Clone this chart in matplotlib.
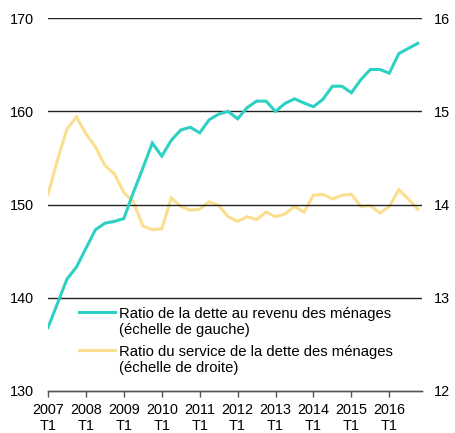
import matplotlib
matplotlib.use("Agg")
import matplotlib.pyplot as plt
import numpy as np

plt.rcParams['font.family'] = ['Liberation Sans', 'DejaVu Sans']

years = [2007, 2008, 2009, 2010, 2011, 2012, 2013, 2014, 2015, 2016]
tick_labels = [f"{y}\nT1" for y in years]

debt_income = [136.8, 139.4, 142.0, 143.3, 145.3, 147.3, 148.0, 148.2, 148.5, 151.3,
               153.9, 156.6, 155.2, 156.9, 158.0, 158.3, 157.7, 159.1, 159.7, 160.0,
               159.2, 160.4, 161.1, 161.1, 160.0, 160.85, 161.35, 160.9, 160.5, 161.3,
               162.7, 162.7, 162.0, 163.4, 164.5, 164.5, 164.1, 166.2, 166.75, 167.3]

debt_service = [14.11, 14.48, 14.81, 14.94, 14.76, 14.62, 14.42, 14.33, 14.13, 14.03,
                13.77, 13.73, 13.74, 14.07, 13.98, 13.94, 13.95, 14.03, 13.99, 13.87,
                13.82, 13.87, 13.84, 13.92, 13.87, 13.90, 13.98, 13.92, 14.10, 14.11,
                14.06, 14.10, 14.11, 13.98, 13.99, 13.91, 13.98, 14.16, 14.06, 13.95]

label_left = "Ratio de la dette au revenu des ménages\n(échelle de gauche)"
label_right = "Ratio du service de la dette des ménages\n(échelle de droite)"

teal = "#2FD0C4"
yellow = "#F9DF8E"

fig = plt.figure(figsize=(4.55, 4.33), dpi=100)
ax = fig.add_axes([0.1055, 0.097, 0.822, 0.861])
ax2 = ax.twinx()

x = np.arange(len(debt_income))

ax.set_ylim(130, 170)
ax.set_yticks([130, 140, 150, 160, 170])
ax2.set_ylim(12, 16)
ax2.set_yticks([12, 13, 14, 15, 16])
ax.set_xlim(0, 39.45)

for yv in [140, 150, 160, 170]:
    ax.axhline(yv, color="#222222", lw=1.0, zorder=0)

l2, = ax2.plot(x, debt_service, color=yellow, lw=2.2, label=label_right, solid_joinstyle='miter')
l1, = ax.plot(x, debt_income, color=teal, lw=2.2, label=label_left, solid_joinstyle='miter')

ax.set_zorder(ax2.get_zorder() + 1)
ax.patch.set_visible(False)

fs = 10.4
ax.set_xticks(np.arange(0, 40, 4))
ax.set_xticklabels(tick_labels, fontsize=fs, linespacing=1.22)
ax.tick_params(axis='x', direction='out', length=4, width=1, color="#555555", pad=4.5)
ax.tick_params(axis='y', length=0, labelsize=fs, pad=10)
ax2.tick_params(axis='y', length=0, labelsize=fs, pad=8.6)

for a in (ax, ax2):
    for s in ['top', 'left', 'right']:
        a.spines[s].set_visible(False)
    a.spines['bottom'].set_color("#555555")
    a.spines['bottom'].set_linewidth(1.0)

leg = ax.legend(handles=[l1, l2], loc='lower left', bbox_to_anchor=(0.066, 0.026),
                frameon=False, fontsize=10.7, handlelength=2.45, handletextpad=0.3,
                labelspacing=0.55, borderaxespad=0)
for t in leg.get_texts():
    t.set_linespacing(1.2)
# align handles with the first line of each label
for col in leg._legend_handle_box.get_children():
    for row in col.get_children():
        row.align = "top"

fig.savefig("out.png", dpi=100)
